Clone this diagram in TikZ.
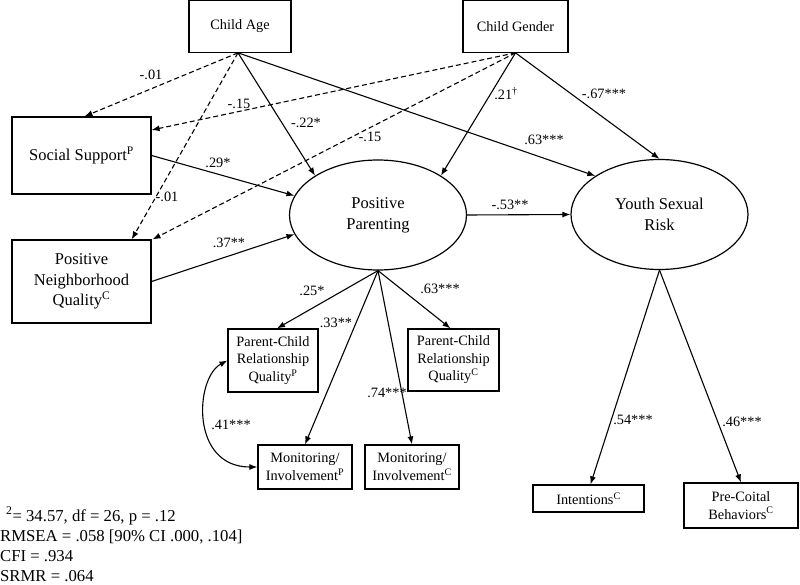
\documentclass[tikz,border=0pt]{standalone}
\usepackage{fontspec}
\setmainfont{Liberation Serif}
\usetikzlibrary{arrows.meta,shapes.geometric}
\begin{document}
\begin{tikzpicture}[x=1pt,y=-1pt,
  box/.style={draw, line width=1.2pt, rectangle, inner sep=0pt, align=center, font=\fontsize{14.3}{17.5}\selectfont},
  bigbox/.style={box, font=\fontsize{16.5}{20.5}\selectfont},
  latent/.style={draw, ellipse, line width=1.2pt, inner sep=0pt, minimum width=177pt, minimum height=110pt, align=center, font=\fontsize{16.5}{21}\selectfont},
  arr/.style={line width=1.1pt, -{Latex[length=8pt,width=6pt]}},
  darr/.style={arr, dash pattern=on 5pt off 3pt},
  biarr/.style={line width=1.1pt, {Latex[length=8pt,width=6pt]}-{Latex[length=8pt,width=6pt]}},
  lbl/.style={inner sep=0pt, font=\fontsize{14.3}{17}\selectfont},
  stat/.style={inner sep=0pt, anchor=west, font=\fontsize{16.7}{20}\selectfont}]
\useasboundingbox (0,0) rectangle (800,585);

% nodes
\node[box, minimum width=102pt, minimum height=51.5pt] (age) at (240,26.5) {Child Age};
\node[box, minimum width=105pt, minimum height=51.5pt] (gender) at (515.5,26.5) {Child Gender};
\node[bigbox, minimum width=139pt, minimum height=77pt] (ss) at (81.5,155.5) {Social Support\textsuperscript{P}};
\node[bigbox, minimum width=139pt, minimum height=83pt] (pnq) at (81.5,281.5) {Positive\\Neighborhood\\Quality\textsuperscript{C}};
\node[latent] (pp) at (378,215) {Positive\\Parenting};
\node[latent] (ysr) at (659.5,214.5) {Youth Sexual\\Risk};
\node[box, minimum width=90pt, minimum height=63pt] (pcrqp) at (273,360.5) {Parent-Child\\Relationship\\Quality\textsuperscript{P}};
\node[box, minimum width=91pt, minimum height=62pt] (pcrqc) at (453.5,360) {Parent-Child\\Relationship\\Quality\textsuperscript{C}};
\node[box, minimum width=94pt, minimum height=44pt] (monp) at (305,467) {Monitoring/\\Involvement\textsuperscript{P}};
\node[box, minimum width=94pt, minimum height=44pt] (monc) at (412,467) {Monitoring/\\Involvement\textsuperscript{C}};
\node[box, minimum width=111pt, minimum height=27pt] (int) at (588.5,498.5) {Intentions\textsuperscript{C}};
\node[box, minimum width=114pt, minimum height=45pt] (pcb) at (741,505.5) {Pre-Coital\\Behaviors\textsuperscript{C}};

\coordinate (agebot) at ([xshift=-2pt]age.south);

% connectors
\draw[darr] (agebot) -- ([xshift=3pt]ss.north);
\draw[darr] (agebot) -- (pnq.40.6);
\draw[arr] (agebot) -- (pp.148);
\draw[arr] (agebot) -- (ysr.149);
\draw[darr] (gender.south) -- (ss.20);
\draw[darr] (gender.south) -- ([xshift=1pt]pnq.north east);
\draw[arr] (gender.south) -- (pp.32);
\draw[arr] (gender.south) -- (ysr.north);
\draw[arr] (ss.east) -- (pp.167);
\draw[arr] (pnq.east) -- (pp.193);
\draw[arr] (pp.east) -- (ysr.west);
\draw[arr] (pp.south) -- ([xshift=4pt]pcrqp.north);
\draw[arr] (pp.south) -- (monp.north);
\draw[arr] (pp.south) -- (monc.north);
\draw[arr] (pp.south) -- ([xshift=-3pt]pcrqc.north);
\draw[arr] (ysr.south) -- ([xshift=2pt]int.north);
\draw[arr] (ysr.south) -- (pcb.north);
\draw[biarr] (pcrqp.west) .. controls (195,378) and (190,467) .. (monp.west);

% labels
\node[lbl] (l1) at (151,75) {-.01};
\node[lbl] (l2) at (167,197) {-.01};
\node[lbl] (l3) at (306,123) {-.22*};
\node[lbl] (l4) at (544,140) {.63***};
\node[lbl] (l5) at (239,104) {-.15};
\node[lbl] (l6) at (370,137) {-.15};
\node[lbl] (l7) at (506,94) {.21\textsuperscript{†}};
\node[lbl] (l8) at (604,94) {-.67***};
\node[lbl] (l9) at (218,163) {.29*};
\node[lbl] (l10) at (229,243) {.37**};
\node[lbl] (l11) at (510,205) {-.53**};
\node[lbl] (l12) at (312,291) {.25*};
\node[lbl] (l13) at (336,323) {.33**};
\node[lbl] (l14) at (387,393) {.74***};
\node[lbl] (l15) at (440,289) {.63***};
\node[lbl] (l16) at (633,420) {.54***};
\node[lbl] (l17) at (742,422) {.46***};
\node[lbl] (l18) at (231,425) {.41***};

% fit statistics
\node[stat] (s1) at (6,516) {\textsuperscript{2}= 34.57, df = 26, p = .12};
\node[stat] (s2) at (0,536.5) {RMSEA = .058 [90\% CI .000, .104]};
\node[stat] (s3) at (0,556.5) {CFI = .934};
\node[stat] (s4) at (0,576) {SRMR = .064};
\end{tikzpicture}
\end{document}
